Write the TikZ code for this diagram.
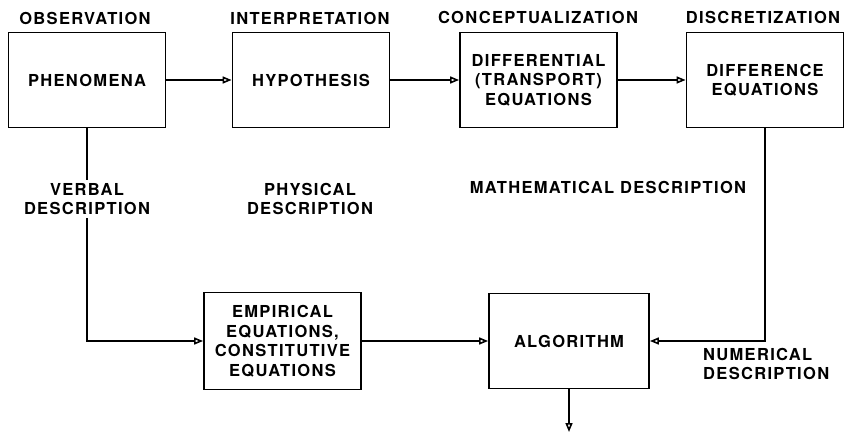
\documentclass[tikz,border=0pt]{standalone}
\usepackage{fontspec}
\setmainfont{TeX Gyre Heros}[LetterSpace=8]
\usetikzlibrary{arrows.meta}
\newcommand\lbfont{\fontsize{16.5}{19.5}\selectfont\bfseries}
\begin{document}
\begin{tikzpicture}[x=1pt,y=-1pt,
  box/.style={draw,line width=1.8pt,minimum width=157pt,minimum height=95pt,align=center,inner sep=0pt,font=\lbfont},
  txt/.style={align=center,inner sep=3pt,font=\lbfont},
  conn/.style={line width=1.8pt,-{Triangle[open,length=9pt,width=7pt,line width=1.6pt]}},
  ln/.style={line width=1.8pt}]
\useasboundingbox (0,0) rectangle (849,433);
% boxes
\node[box] (phen) at (87,80) {PHENOMENA};
\node[box] (hyp) at (311,80) {HYPOTHESIS};
\node[box] (diff) at (538.5,80) {DIFFERENTIAL\\(TRANSPORT)\\EQUATIONS};
\node[box] (dif2) at (765,80) {DIFFERENCE\\EQUATIONS};
\node[box,minimum height=97pt] (emp) at (282.5,341) {EMPIRICAL\\EQUATIONS,\\CONSTITUTIVE\\EQUATIONS};
\node[box,minimum width=160pt] (alg) at (569,341) {ALGORITHM};
% labels
\node[txt] (obs) at (85,18) {OBSERVATION};
\node[txt] (intp) at (310,18) {INTERPRETATION};
\node[txt] (conc) at (538,17) {CONCEPTUALIZATION};
\node[txt] (disc) at (763,17) {DISCRETIZATION};
\node[txt] (verbal) at (87,199) {VERBAL\\DESCRIPTION};
\node[txt] (phys) at (310,199) {PHYSICAL\\DESCRIPTION};
\node[txt] (math) at (608,187) {MATHEMATICAL DESCRIPTION};
\node[txt,align=left,anchor=west] (num) at (700,364) {NUMERICAL\\DESCRIPTION};
% connectors
\draw[conn] (phen.east) -- (hyp.west);
\draw[conn] (hyp.east) -- (diff.west);
\draw[conn] (diff.east) -- (dif2.west);
\draw[ln] (phen.south) -- (verbal.north);
\draw[conn] (verbal.south) |- (emp.west);
\draw[conn] (emp.east) -- (alg.west);
\draw[conn] (dif2.south) |- (alg.east);
\coordinate (out) at (569,432);
\draw[conn] (alg.south) -- (out);
\end{tikzpicture}
\end{document}
